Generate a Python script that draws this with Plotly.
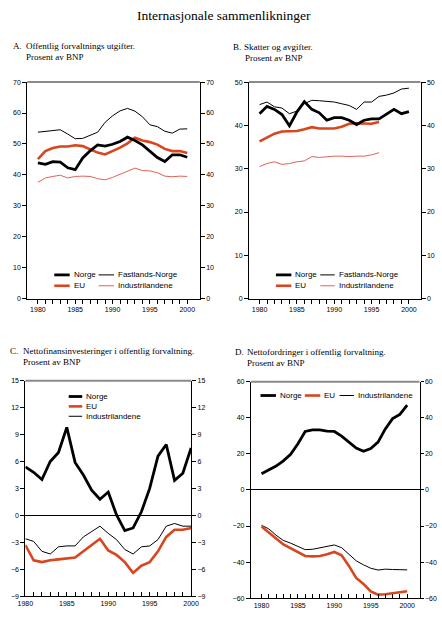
import plotly.graph_objects as go

years = list(range(1980, 2001))
years_b = list(range(1980, 1997))

# A. Offentlig forvaltnings utgifter, prosent av BNP
a_norge = [43.9, 43.4, 44.3, 44.1, 42.3, 41.7, 45.5, 47.8, 49.7, 49.3, 49.9,
           50.8, 52.2, 51.1, 49.7, 47.7, 45.6, 44.3, 46.5, 46.5, 45.7]
a_fastland = [53.8, 54.1, 54.4, 54.6, 53.2, 51.7, 51.8, 52.9, 53.8, 57.0, 59.1,
              60.7, 61.5, 60.6, 58.8, 56.2, 55.6, 54.1, 53.5, 54.8, 54.9]
a_eu = [45.1, 47.7, 48.7, 49.2, 49.2, 49.6, 49.3, 48.2, 47.2, 46.6, 47.7,
        48.8, 50.2, 52.0, 51.1, 50.6, 49.8, 48.4, 47.7, 47.7, 47.1]
a_industri = [37.6, 39.0, 39.5, 39.9, 39.0, 39.5, 39.6, 39.5, 38.8, 38.4, 39.2,
              40.2, 41.1, 42.2, 41.4, 41.3, 40.7, 39.6, 39.4, 39.6, 39.5]

# B. Skatter og avgifter, prosent av BNP
b_norge = [42.7, 44.4, 43.7, 42.5, 39.9, 43.1, 45.5, 43.7, 42.9, 41.2, 41.8,
           41.8, 41.2, 40.2, 41.2, 41.5, 41.5, 42.6, 43.7, 42.7, 43.2]
b_fastland = [44.8, 45.4, 44.3, 44.0, 42.7, 43.3, 45.0, 45.8, 45.7, 45.5, 45.4,
              45.0, 44.6, 43.7, 45.4, 45.4, 46.7, 47.0, 47.5, 48.4, 48.6]
b_eu = [36.3, 37.2, 38.1, 38.6, 38.7, 38.7, 39.1, 39.6, 39.3, 39.3, 39.3,
        39.7, 40.4, 40.5, 40.4, 40.4, 40.8]
b_industri = [30.5, 31.2, 31.6, 31.0, 31.2, 31.6, 31.8, 32.8, 32.6, 32.8, 32.9,
              32.9, 32.8, 32.9, 32.9, 33.2, 33.7]

# C. Nettofinansinvesteringer i offentlig forvaltning
c_norge = [5.4, 4.8, 4.0, 6.0, 7.0, 9.8, 5.9, 4.5, 2.8, 1.8, 2.6,
           0.05, -1.7, -1.4, 0.4, 3.0, 6.6, 7.9, 3.9, 4.7, 7.5]
c_eu = [-3.3, -5.0, -5.2, -5.0, -4.9, -4.8, -4.7, -4.0, -3.3, -2.6, -3.9,
        -4.4, -5.2, -6.4, -5.6, -5.2, -4.0, -2.4, -1.6, -1.6, -1.4]
c_industri = [-2.6, -2.9, -4.0, -4.3, -3.5, -3.4, -3.4, -2.4, -1.8, -1.2, -2.0,
              -2.7, -3.8, -4.3, -3.5, -3.4, -2.7, -1.2, -0.9, -1.2, -1.2]

# D. Nettofordringer i offentlig forvaltning
d_norge = [9.0, 11.0, 13.2, 16.1, 19.8, 25.6, 32.4, 33.3, 33.3, 32.6, 32.4,
           29.8, 26.7, 23.2, 21.4, 22.9, 26.5, 33.8, 39.5, 41.9, 47.0]
d_eu = [-20.3, -23.4, -26.9, -30.2, -32.4, -34.8, -36.6, -36.8, -36.6, -35.7, -34.4,
        -36.2, -42.1, -48.8, -52.1, -56.2, -58.0, -57.8, -57.3, -56.9, -56.2]
d_industri = [-19.6, -21.6, -25.1, -28.0, -29.5, -31.3, -33.1, -32.9, -32.2, -31.5, -30.5,
              -32.0, -35.7, -39.3, -41.5, -43.4, -44.4, -43.9, -44.1, -44.1, -44.3]

W, H = 442, 618
RED = "#d8461e"
PINK = "#e4605a"
SANS = "Liberation Sans, Arial, sans-serif"
SERIF = "Liberation Serif, Times New Roman, serif"

fig = go.Figure()


def line(x, y, ax, yax, color, width):
    fig.add_trace(go.Scatter(x=x, y=y, mode="lines", line=dict(color=color, width=width),
                             xaxis="x" + ax, yaxis="y" + yax, showlegend=False,
                             hoverinfo="skip"))


# Norge goes on the right-hand axis so that axis gets drawn (same range as left)
line(years, a_industri, "", "", PINK, 1)
line(years, a_fastland, "", "", "black", 1)
line(years, a_eu, "", "", RED, 2.6)
line(years, a_norge, "", "5", "black", 2.8)

line(years_b, b_industri, "2", "2", PINK, 1)
line(years, b_fastland, "2", "2", "black", 1)
line(years_b, b_eu, "2", "2", RED, 2.6)
line(years, b_norge, "2", "6", "black", 2.8)

line(years, c_industri, "3", "3", "black", 1)
line(years, c_eu, "3", "3", RED, 2.6)
line(years, c_norge, "3", "7", "black", 2.8)

line(years, d_industri, "4", "4", "black", 1)
line(years, d_eu, "4", "4", RED, 2.6)
line(years, d_norge, "4", "8", "black", 2.8)

# panels: (axis suffix, left px, right px, top px, bottom px, x range, y range,
#          dtick, x ticks, right tick length)
panels = [
    ("", 20, 199, 79, 298, [1978.58, 2001.68], [0, 70], 10, "outside", 4),
    ("2", 250, 428, 79, 298, [1978.58, 2001.55], [0, 50], 10, "outside", 4),
    ("3", 18, 190, 381, 599, [1980, 2000], [-9, 15], 3, "inside", 4),
    ("4", 252, 427, 382, 601, [1978.54, 2001.7], [-60, 60], 20, "inside", 3),
]

tickfont = dict(family=SANS, size=7, color="black")
layout = {}
shapes = []
annotations = []
for i, (s, l, r, t, b, xr, yr, dt, xt, rtl) in enumerate(panels):
    xdom = [l / W, r / W]
    ydom = [1 - b / H, 1 - t / H]
    layout["xaxis" + s] = dict(
        domain=xdom, range=xr, anchor="y" + s, tickvals=years,
        ticktext=[str(y) if y % 5 == 0 else "" for y in years],
        ticks=xt, ticklen=4, tickcolor="black", showline=True, linecolor="black",
        linewidth=1, showgrid=False, zeroline=False, tickfont=tickfont, tickangle=0)
    yax = dict(domain=ydom, range=yr, dtick=dt, tick0=0, ticks="outside", ticklen=4,
               tickcolor="black", showline=True, linecolor="black", linewidth=1,
               showgrid=False, zeroline=yr[0] < 0, zerolinecolor="black",
               zerolinewidth=1, tickfont=tickfont)
    layout["yaxis" + s] = dict(yax, anchor="x" + s)
    layout["yaxis" + str(i + 5)] = dict(yax, anchor="x" + s, overlaying="y" + s,
                                        side="right", zeroline=False, ticklen=rtl,
                                        ticklabeloverflow="allow")
    shapes.append(dict(type="line", xref="x" + s + " domain", yref="y" + s + " domain",
                       x0=0, x1=1, y0=1, y1=1, line=dict(color="#8a8a8a", width=2)))

# legends drawn as short keys with labels
legend_items = [
    (48, 64, 274, "black", 2.8, "Norge"),
    (48, 64, 285, RED, 2.6, "EU"),
    (94, 110, 274, "black", 1, "Fastlands-Norge"),
    (94, 110, 285, PINK, 1, "Industrilandene"),
    (278, 294, 274, "black", 2.8, "Norge"),
    (278, 294, 285, RED, 2.6, "EU"),
    (324, 339, 274, "black", 1, "Fastlands-Norge"),
    (324, 339, 285, PINK, 1, "Industrilandene"),
    (63, 77, 397, "black", 2.8, "Norge"),
    (63, 77, 407, RED, 2.6, "EU"),
    (63, 77, 417, "black", 1, "Industrilandene"),
    (262, 278, 396, "black", 2.8, "Norge"),
    (308, 324, 396, RED, 2.6, "EU"),
    (344, 359, 396, "black", 1, "Industrilandene"),
]
for x0, x1, y, c, w, label in legend_items:
    shapes.append(dict(type="line", xref="paper", yref="paper", x0=x0 / W, x1=x1 / W,
                       y0=1 - y / H, y1=1 - y / H, line=dict(color=c, width=w)))
    annotations.append(dict(text=label, xref="paper", yref="paper", x=(x1 + 2) / W,
                            y=1 - y / H, xanchor="left", yanchor="middle", showarrow=False,
                            font=dict(family=SANS, size=8, color="black")))

# title and panel headings
texts = [
    (224, 12, "Internasjonale sammenlikninger", 13.5, "center"),
    (3, 42, "A.", 9, "left"),
    (17, 42, "Offentlig forvaltnings utgifter.", 9, "left"),
    (17, 54, "Prosent av BNP", 9, "left"),
    (231, 43, "B.", 9, "left"),
    (243, 43, "Skatter og avgifter.", 9, "left"),
    (244, 55, "Prosent av BNP", 9, "left"),
    (0, 351, "C.", 9, "left"),
    (13, 351, "Nettofinansinvesteringer i offentlig forvaltning.", 9, "left"),
    (14, 362, "Prosent av BNP", 9, "left"),
    (233, 352, "D.", 9, "left"),
    (246, 352, "Nettofordringer i offentlig forvaltning.", 9, "left"),
    (246, 363, "Prosent av BNP", 9, "left"),
]
for x, y, txt, size, anchor in texts:
    annotations.append(dict(text=txt, xref="paper", yref="paper", x=x / W, y=1 - y / H,
                            xanchor=anchor, yanchor="middle", showarrow=False,
                            font=dict(family=SERIF, size=size, color="black")))

fig.update_layout(
    width=W, height=H, autosize=False,
    margin=dict(l=0, r=0, t=0, b=0),
    paper_bgcolor="white", plot_bgcolor="white",
    shapes=shapes, annotations=annotations,
    showlegend=False,
    **layout,
)
# drop the browser's default body margin so the figure sits at the window corner
fig.write_html("out.html", config={"displayModeBar": False},
               post_script="document.body.style.margin = '0px';")
